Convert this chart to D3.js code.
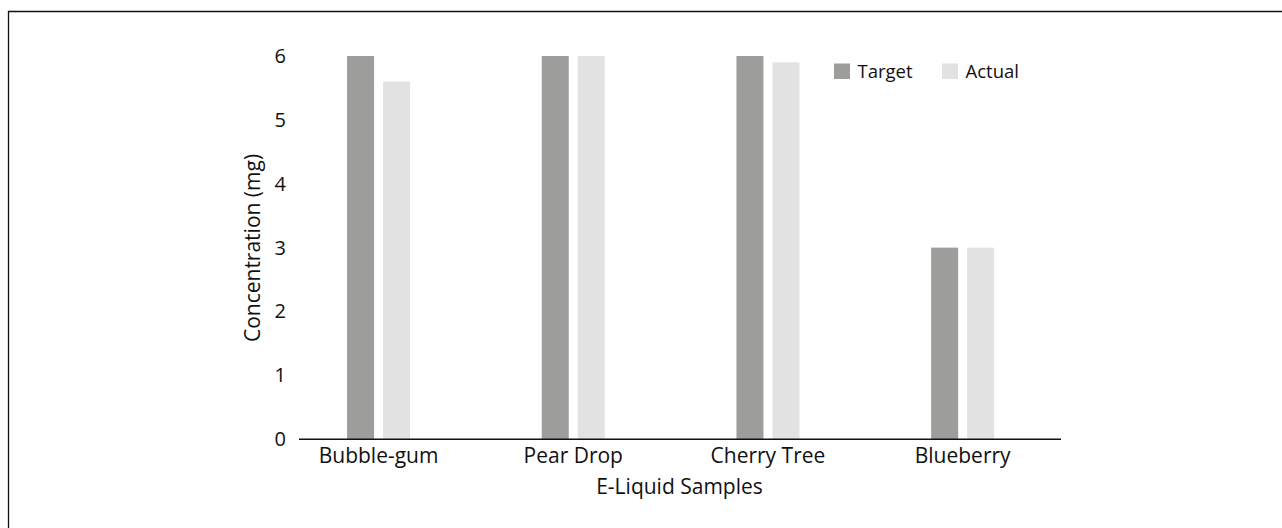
<!DOCTYPE html>
<html>
<head>
<meta charset="utf-8">
<script src="https://cdn.jsdelivr.net/npm/d3@7"></script>
<style>
  html, body { margin: 0; padding: 0; background: #fff; }
  svg { display: block; }
  text { font-family: "Open Sans", "Noto Sans", sans-serif; fill: #111; }
</style>
</head>
<body>
<svg id="chart" width="1282" height="528"></svg>
<script>
const categories = ["Bubble-gum", "Pear Drop", "Cherry Tree", "Blueberry"];
const seriesNames = ["Target", "Actual"];
const targetValues = [6, 6, 6, 3];
const actualValues = [5.6, 6, 5.9, 3];
const yTicks = [0, 1, 2, 3, 4, 5, 6];
const colors = ["#9d9d9c", "#e2e2e2"];
const xTitle = "E-Liquid Samples";
const yTitle = "Concentration (mg)";

const svg = d3.select("#chart");

// frame
svg.append("path")
  .attr("d", "M8.5,528 L8.5,11.5 L1282,11.5")
  .attr("fill", "none").attr("stroke", "#111").attr("stroke-width", 1.3);

const axisLeftX = 299, axisRightX = 1061;
const y = d3.scaleLinear().domain([0, 6]).range([439.3, 56]);
const x0 = d3.scaleBand().domain(categories).range([281.2, 1060]).padding(0);
const x1 = d3.scaleBand().domain(seriesNames).range([-31.5, 31.5]).paddingInner(0.25).paddingOuter(0);

const data = categories.map((c, i) => ({ cat: c, vals: [targetValues[i], actualValues[i]] }));

const g = svg.append("g");
data.forEach(d => {
  const cx = x0(d.cat) + x0.bandwidth() / 2;
  seriesNames.forEach((s, j) => {
    g.append("rect")
      .attr("x", cx + x1(s))
      .attr("width", x1.bandwidth())
      .attr("y", y(d.vals[j]))
      .attr("height", y(0) - y(d.vals[j]))
      .attr("fill", colors[j]);
  });
});

// x axis
const xAxis = d3.axisBottom(x0).tickSize(0).tickPadding(0);
const xg = svg.append("g").attr("transform", `translate(0,${y(0)})`).call(xAxis);
xg.select(".domain").remove();
xg.selectAll("text")
  .attr("y", 24).attr("dy", null)
  .style("font-size", "21px")
  .attr("fill", "#111");
svg.append("line")
  .attr("x1", axisLeftX).attr("x2", axisRightX)
  .attr("y1", y(0)).attr("y2", y(0))
  .attr("stroke", "#111").attr("stroke-width", 1.5);

// y axis
const yAxis = d3.axisLeft(y).tickValues(yTicks).tickFormat(d3.format("d")).tickSize(0).tickPadding(0);
const yg = svg.append("g").attr("transform", `translate(${axisLeftX - 13},0)`).call(yAxis);
yg.select(".domain").remove();
yg.selectAll("text")
  .style("font-size", "20px")
  .attr("fill", "#111");

// titles
svg.append("text")
  .attr("x", 679.5).attr("y", 494)
  .attr("text-anchor", "middle")
  .style("font-size", "21px")
  .text(xTitle);

svg.append("text")
  .attr("transform", "translate(259.5,248) rotate(-90)")
  .attr("text-anchor", "middle")
  .style("font-size", "21px")
  .text(yTitle);

// legend
const legendX = [834, 942];
const leg = svg.append("g");
seriesNames.forEach((s, j) => {
  leg.append("rect")
    .attr("x", legendX[j]).attr("y", 63.5)
    .attr("width", 16).attr("height", 15.5)
    .attr("fill", colors[j]);
  leg.append("text")
    .attr("x", legendX[j] + 23.5).attr("y", 77.5)
    .style("font-size", "18.5px")
    .text(s);
});
</script>
</body>
</html>
